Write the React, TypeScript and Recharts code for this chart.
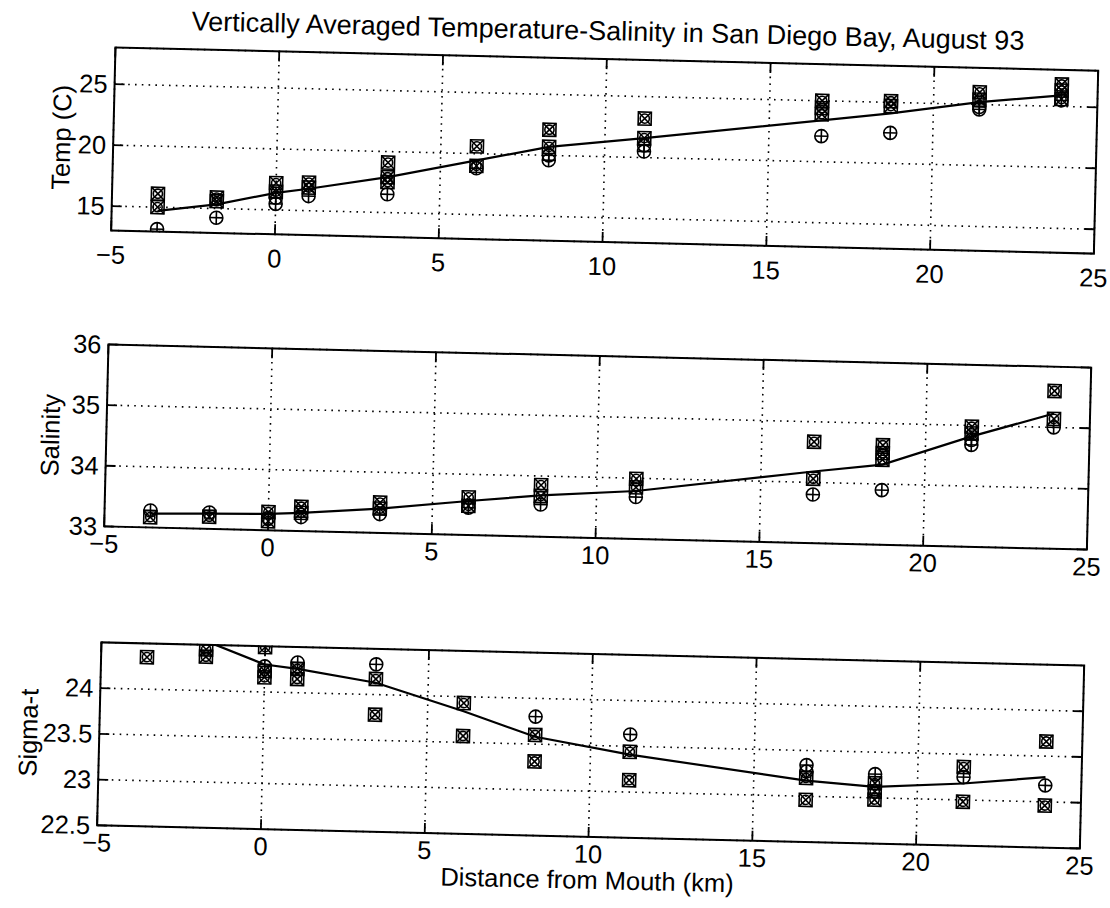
import React from 'react';
import {
  ComposedChart,
  XAxis,
  YAxis,
  CartesianGrid,
  Line,
  Scatter,
  ReferenceArea,
} from 'recharts';

// Station positions along the bay (km from the mouth)
const stations = [-3.6, -1.8, 0, 1, 3.4, 6.1, 8.3, 11.2, 16.6, 18.7, 21.4, 23.9];
const distanceTicks = [-5, 0, 5, 10, 15, 20, 25];

// Temperature (C)
const tempMean = [14.7, 15.35, 16.4, 16.8, 17.9, 19.45, 20.7, 21.6, 23.4, 24.1, 25.2, 25.9];
const tempCross = [
  [16.1, 15.0], [15.9, 15.6], [17.2, 16.5], [17.3, 16.9], [19.1, 17.9, 17.5], [20.6, 19.0],
  [22.1, 20.7], [23.2, 21.6], [25.0, 24.4, 23.9], [25.1, 24.7], [26.0, 25.4], [26.8, 26.3, 25.6],
];
const tempPlus = [
  [13.2], [14.25], [16.0, 15.5], [16.2], [16.5], [18.8],
  [20.0, 19.6], [21.0, 20.5], [22.1], [22.5], [24.8, 24.6], [25.5],
];
const tempTicks = [15, 20, 25];

// Salinity
const salMean = [33.23, 33.25, 33.27, 33.3, 33.4, 33.56, 33.68, 33.79, 34.18, 34.32, 34.82, 35.23];
const salCross = [
  [33.17], [33.2], [33.3, 33.15], [33.4, 33.3], [33.5, 33.4], [33.62, 33.48],
  [33.85, 33.67], [33.99, 33.85], [34.67, 34.06], [34.64, 34.51, 34.4], [34.98, 34.87], [35.6, 35.14],
];
const salPlus = [
  [33.28], [33.27], [33.2], [33.23], [33.31], [33.45],
  [33.53], [33.69], [33.8], [33.9], [34.76, 34.68], [35.0],
];
const salTicks = [33, 34, 35, 36];

// Sigma-t
const sigMean = [24.56, 24.54, 24.3, 24.26, 24.13, 23.84, 23.58, 23.41, 23.17, 23.12, 23.18, 23.27];
const sigCross = [
  [24.35], [24.45, 24.37], [24.49, 24.23, 24.16], [24.26, 24.15], [24.17, 23.78], [23.93, 23.57],
  [23.6, 23.31], [23.44, 23.13], [23.2, 22.96], [23.16, 23.07, 22.98], [23.36, 22.98], [23.66, 22.96],
];
const sigPlus = [
  [], [], [24.28], [24.33], [24.33], [],
  [23.8], [23.63], [23.34, 23.27], [23.26], [23.25], [23.18],
];
const sigTicks = [22.5, 23, 23.5, 24];

const FONT = '"Liberation Sans", Arial, Helvetica, sans-serif';
const FONT_SIZE = 25.5;
const CHART_W = 1110;
const PLOT_LEFT = 106;
const PLOT_RIGHT = 1089;
const MT = 30;
const MB = 50;
const TICK_LEN = 10;

const toLine = (vals: number[]) => stations.map((x, i) => ({ x, y: vals[i] }));
const toPoints = (groups: number[][]) =>
  groups.flatMap((g, i) => g.map((y) => ({ x: stations[i], y })));

const fmt = (v: number) => (v < 0 ? `\u2212${Math.abs(v)}` : String(v));

function CrossBox(props: any) {
  const { cx, cy } = props;
  if (cx == null || cy == null) return null;
  const s = 6.5;
  return (
    <g fill="none" stroke="#000" strokeWidth={1.6}>
      <rect x={cx - s} y={cy - s} width={2 * s} height={2 * s} />
      <line x1={cx - s} y1={cy - s} x2={cx + s} y2={cy + s} />
      <line x1={cx - s} y1={cy + s} x2={cx + s} y2={cy - s} />
      <circle cx={cx} cy={cy} r={4.6} />
    </g>
  );
}

function PlusCircle(props: any) {
  const { cx, cy } = props;
  if (cx == null || cy == null) return null;
  const r = 6.5;
  return (
    <g fill="none" stroke="#000" strokeWidth={1.6}>
      <circle cx={cx} cy={cy} r={r} />
      <line x1={cx - r} y1={cy} x2={cx + r} y2={cy} />
      <line x1={cx} y1={cy - r} x2={cx} y2={cy + r} />
    </g>
  );
}

type PanelProps = {
  top: number;
  plotH: number;
  domain: [number, number];
  yTicks: number[];
  mean: number[];
  cross: number[][];
  plus: number[][];
  labelGap: number;
};

function Panel({ top, plotH, domain, yTicks, mean, cross, plus, labelGap }: PanelProps) {
  const H = MT + plotH + MB;
  const bottom = MT + plotH;

  const XTick = (p: any) => {
    const x = p.payload?.coordinate ?? p.x;
    return (
      <g>
        <line x1={x} x2={x} y1={bottom} y2={bottom - TICK_LEN} stroke="#000" strokeWidth={1.8} />
        <line x1={x} x2={x} y1={MT} y2={MT + TICK_LEN} stroke="#000" strokeWidth={1.8} />
        <text
          x={x}
          y={bottom + labelGap}
          textAnchor="middle"
          fontSize={FONT_SIZE}
          fontFamily={FONT}
          fill="#000"
        >
          {fmt(p.payload.value)}
        </text>
      </g>
    );
  };

  const YTick = (p: any) => {
    const y = p.payload?.coordinate ?? p.y;
    return (
      <g>
        <line x1={PLOT_LEFT} x2={PLOT_LEFT + TICK_LEN} y1={y} y2={y} stroke="#000" strokeWidth={1.8} />
        <line x1={PLOT_RIGHT - TICK_LEN} x2={PLOT_RIGHT} y1={y} y2={y} stroke="#000" strokeWidth={1.8} />
        <text
          x={PLOT_LEFT - 7}
          y={y}
          textAnchor="end"
          dominantBaseline="central"
          fontSize={FONT_SIZE}
          fontFamily={FONT}
          fill="#000"
        >
          {fmt(p.payload.value)}
        </text>
      </g>
    );
  };

  return (
    <div style={{ position: 'absolute', left: 0, top: top - MT }}>
      <ComposedChart
        width={CHART_W}
        height={H}
        margin={{ top: MT, right: CHART_W - PLOT_RIGHT, bottom: 0, left: 0 }}
      >
        <CartesianGrid stroke="#000" strokeWidth={1.6} strokeDasharray="1.6 5.2" />
        <XAxis
          type="number"
          dataKey="x"
          domain={[-5, 25]}
          ticks={distanceTicks}
          interval={0}
          allowDataOverflow
          axisLine={false}
          tickLine={false}
          height={MB}
          tick={(p: any) => <XTick {...p} />}
        />
        <YAxis
          type="number"
          domain={domain}
          ticks={yTicks}
          interval={0}
          allowDataOverflow
          axisLine={false}
          tickLine={false}
          width={PLOT_LEFT}
          tick={(p: any) => <YTick {...p} />}
        />
        <ReferenceArea
          x1={-5}
          x2={25}
          y1={domain[0]}
          y2={domain[1]}
          fill="none"
          fillOpacity={0}
          stroke="#000"
          strokeWidth={2}
          strokeOpacity={1}
        />
        <Line
          data={toLine(mean)}
          dataKey="y"
          type="linear"
          stroke="#000"
          strokeWidth={2.2}
          dot={false}
          activeDot={false}
          isAnimationActive={false}
        />
        <Scatter data={toPoints(cross)} dataKey="y" shape={CrossBox} isAnimationActive={false} />
        <Scatter data={toPoints(plus)} dataKey="y" shape={PlusCircle} isAnimationActive={false} />
      </ComposedChart>
    </div>
  );
}

export default function App() {
  return (
    <div
      style={{
        position: 'absolute',
        left: 0,
        top: 0,
        width: 1110,
        height: 908,
        overflow: 'hidden',
        background: '#fff',
      }}
    >
      <div
        style={{
          position: 'absolute',
          left: 0,
          top: 0,
          width: 1110,
          height: 908,
          transform: 'rotate(1.35deg)',
          transformOrigin: '555px 454px',
        }}
      >
        <Panel
          top={58}
          plotH={183}
          domain={[13, 28]}
          yTicks={tempTicks}
          mean={tempMean}
          cross={tempCross}
          plus={tempPlus}
          labelGap={33}
        />
        <Panel
          top={355}
          plotH={182}
          domain={[33, 36]}
          yTicks={salTicks}
          mean={salMean}
          cross={salCross}
          plus={salPlus}
          labelGap={26}
        />
        <Panel
          top={653}
          plotH={183}
          domain={[22.5, 24.5]}
          yTicks={sigTicks}
          mean={sigMean}
          cross={sigCross}
          plus={sigPlus}
          labelGap={26}
        />
        <svg
          width={1110}
          height={908}
          style={{ position: 'absolute', left: 0, top: 0, pointerEvents: 'none' }}
        >
          <g fontFamily={FONT} fill="#000">
            <text x={598} y={39} textAnchor="middle" fontSize={27}>
              Vertically Averaged Temperature-Salinity in San Diego Bay, August 93
            </text>
            <text x={597} y={888} textAnchor="middle" fontSize={FONT_SIZE}>
              Distance from Mouth (km)
            </text>
            <text x={54} y={149} textAnchor="middle" dominantBaseline="central" fontSize={FONT_SIZE} transform="rotate(-90 54 149)">
              Temp (C)
            </text>
            <text x={50} y={447} textAnchor="middle" dominantBaseline="central" fontSize={FONT_SIZE} transform="rotate(-90 50 447)">
              Salinity
            </text>
            <text x={35} y={745} textAnchor="middle" dominantBaseline="central" fontSize={FONT_SIZE} transform="rotate(-90 35 745)">
              Sigma-t
            </text>
          </g>
        </svg>
      </div>
    </div>
  );
}
